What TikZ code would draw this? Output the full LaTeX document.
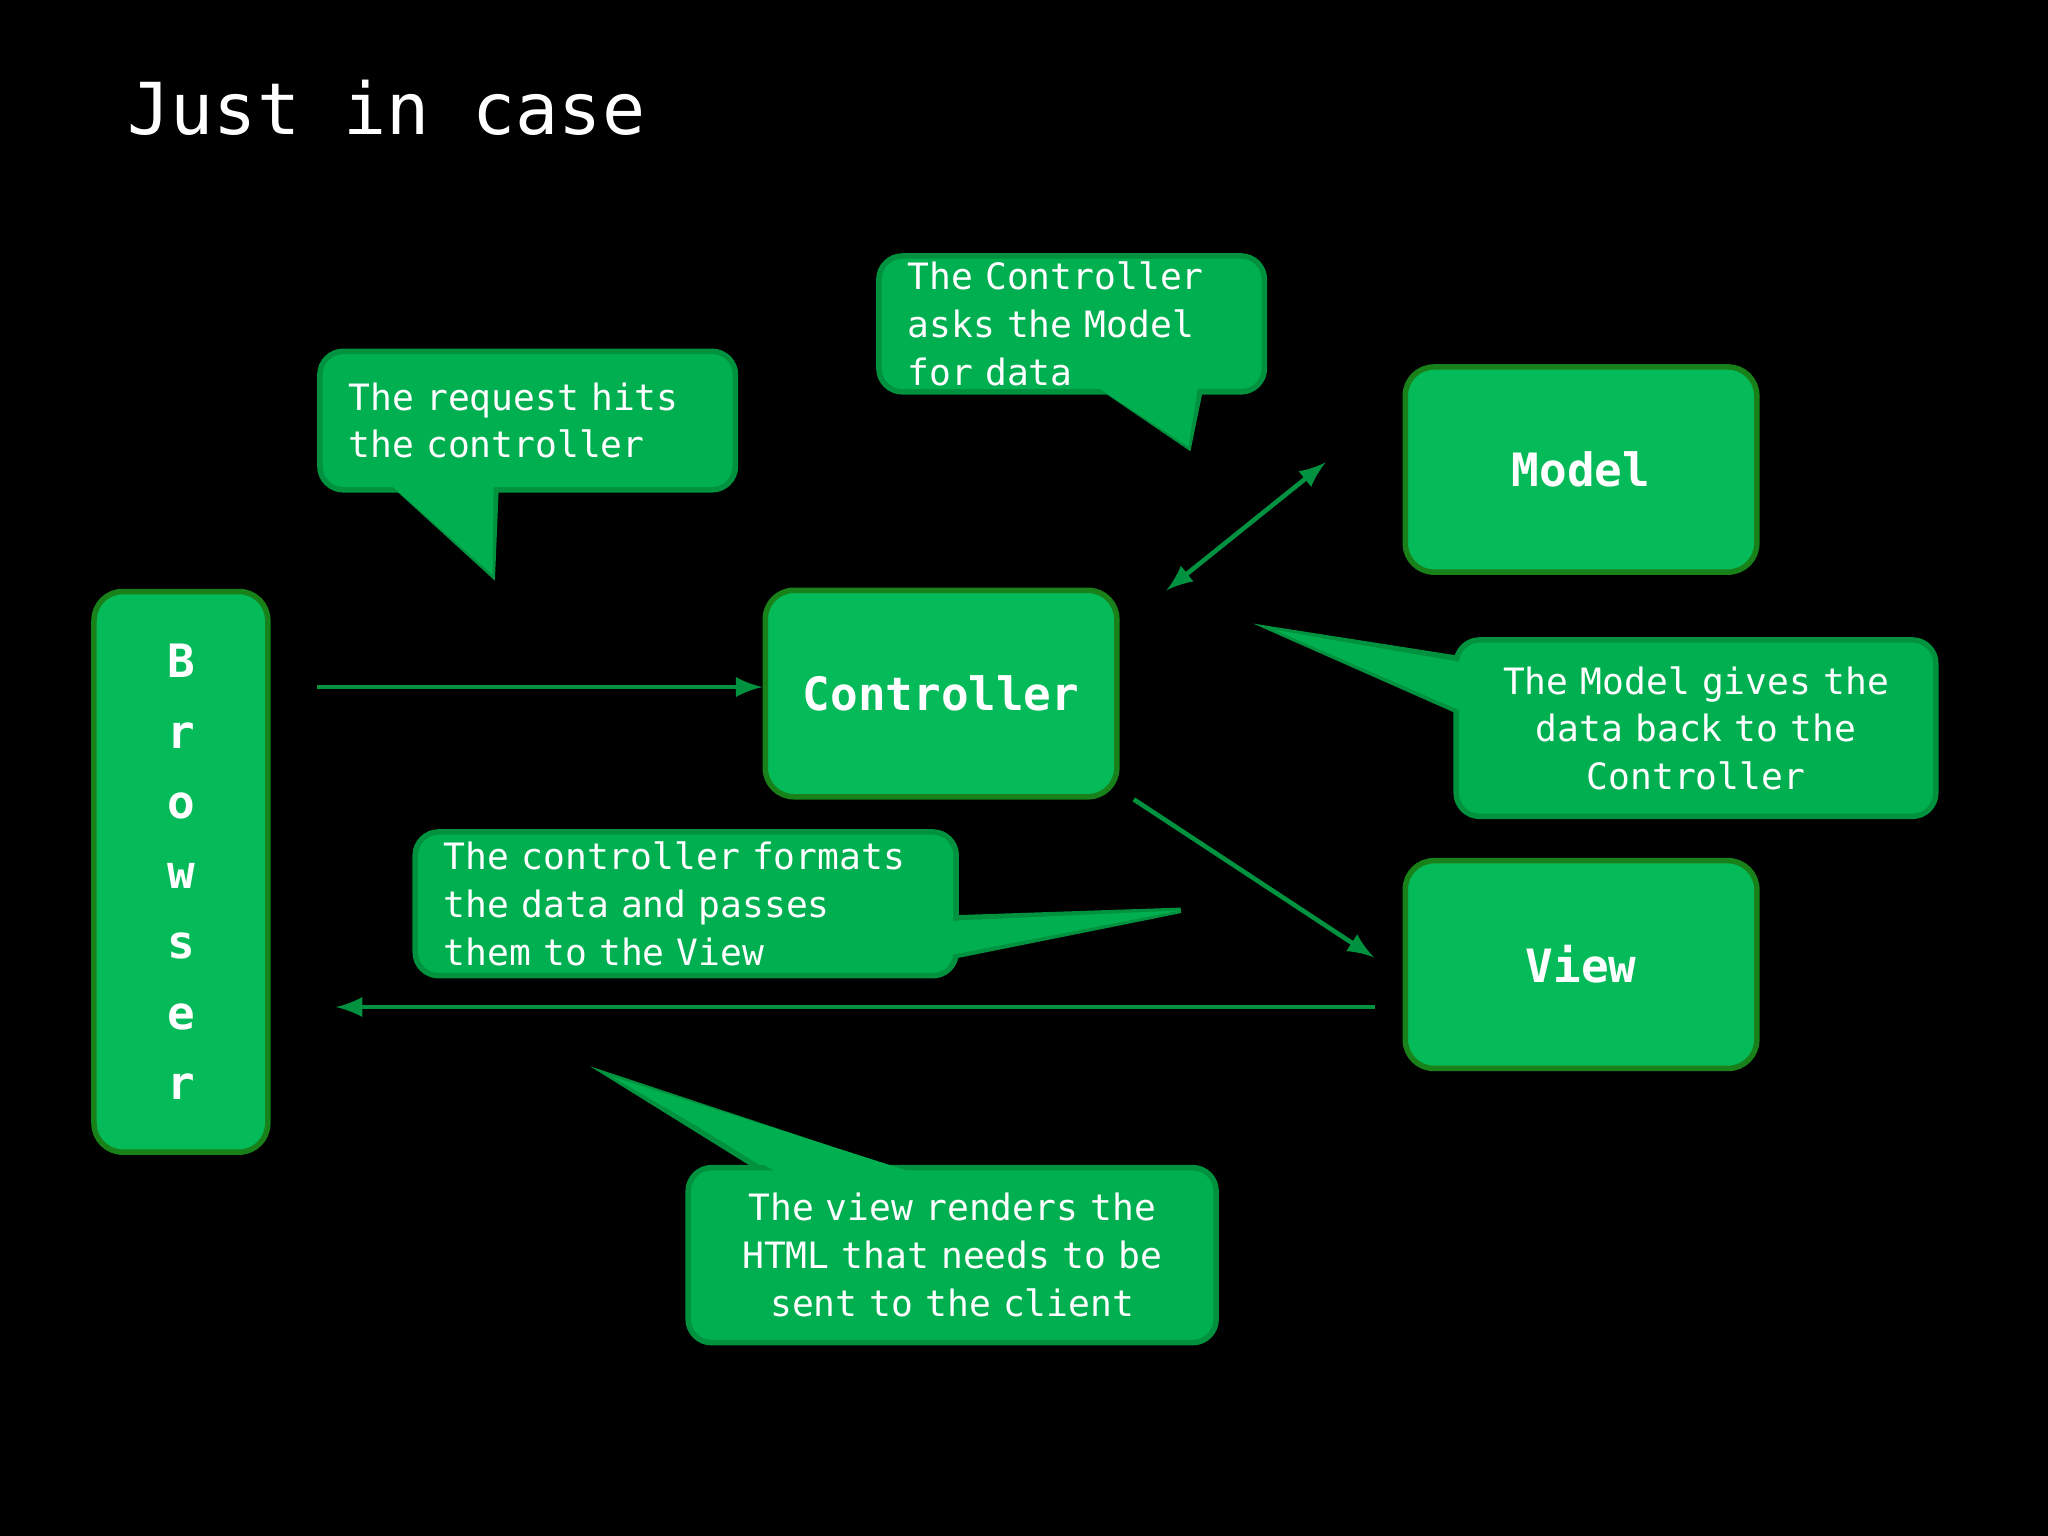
\documentclass[tikz,border=0pt]{standalone}
\usepackage{fontspec}
\setmonofont{DejaVu Sans Mono}
\begin{document}
\begin{tikzpicture}[x=0.01cm,y=-0.01cm,
  box/.style={draw=green!45!black!90!white, line width=1.2pt, fill=grn, rounded corners=0.22cm, text=white, font=\ttfamily\bfseries\fontsize{10}{12}\selectfont},
  call/.style={draw=cbd, line width=1.2pt, fill=cfl, rounded corners=0.18cm, text=white, font=\ttfamily\fontsize{7.9}{10.4}\selectfont, inner sep=0pt},
  tail/.style={draw=cbd, line width=1.2pt, fill=cfl, line join=miter},
  tailfill/.style={fill=cfl},
  conn/.style={draw=cbd, line width=1pt, -latex}]
\definecolor{grn}{HTML}{05BA58}
\definecolor{cfl}{HTML}{00AF50}
\definecolor{cbd}{HTML}{00923F}
\fill[black] (0,0) rectangle (1568,1176);
\node[anchor=base west, text=white, font=\ttfamily\fontsize{15.6}{18}\selectfont, inner sep=0pt] (title) at (97,103) {Just in case};

% main boxes
\node[box, minimum width=1.33cm, minimum height=4.29cm, align=center, font=\ttfamily\bfseries\fontsize{10}{15.3}\selectfont] (browser) at (138.5,667.5) {B\\r\\o\\w\\s\\e\\r};
\node[box, minimum width=2.69cm, minimum height=1.58cm] (ctrl) at (720.5,531) {Controller};
\node[box, minimum width=2.69cm, minimum height=1.57cm] (model) at (1210.5,359.5) {Model};
\node[box, minimum width=2.69cm, minimum height=1.59cm] (view) at (1210.5,738.5) {View};

% callout 1
\coordinate (t1) at (377,440);
\draw[tail] (298,368) -- (t1) -- (380,368);
\node[call, minimum width=3.18cm, minimum height=1.06cm, text width=2.74cm, align=left] (c1) at (404,322) {The request hits\\the controller};
\fill[tailfill] (300,372) -- (t1) -- (378,372) -- cycle;

% callout 2
\coordinate (t2) at (910,342);
\draw[tail] (838,293) -- (t2) -- (920,293);
\node[call, minimum width=2.95cm, minimum height=1.04cm, text width=2.51cm, align=left] (c2) at (820.5,248) {The Controller\\asks the Model\\for data};
\fill[tailfill] (841,297) -- (t2) -- (917,297) -- cycle;

% callout 3
\coordinate (t3) at (975,482);
\draw[tail] (1122,505) -- (t3) -- (1122,547);
\node[call, minimum width=3.67cm, minimum height=1.35cm, text width=3.4cm, align=center] (c3) at (1298.5,557.5) {The Model gives the\\data back to the\\Controller};
\fill[tailfill] (1118,507) -- (t3) -- (1118,544) -- cycle;

% callout 4
\coordinate (t4) at (904,697);
\draw[tail] (725,703) -- (t4) -- (725,733);
\node[call, minimum width=4.14cm, minimum height=1.10cm, text width=3.7cm, align=left] (c4) at (525,692) {The controller formats\\the data and passes\\them to the View};
\fill[tailfill] (729,705) -- (t4) -- (729,731) -- cycle;

% callout 5
\coordinate (t5) at (468,824);
\draw[tail] (592,901) -- (t5) -- (700,901);
\node[call, minimum width=4.04cm, minimum height=1.34cm, text width=3.7cm, align=center] (c5) at (729,961) {The view renders the\\HTML that needs to be\\sent to the client};
\fill[tailfill] (594,897) -- (t5) -- (697,897) -- cycle;

% connectors
\draw[conn] (243,526) -- (ctrl.west |- 0,526);
\draw[conn, latex-latex] (893,452) -- (1015,354);
\draw[conn] (868,612) -- (1052,733);
\draw[conn] (1053,771) -- (257,771);
\end{tikzpicture}
\end{document}
